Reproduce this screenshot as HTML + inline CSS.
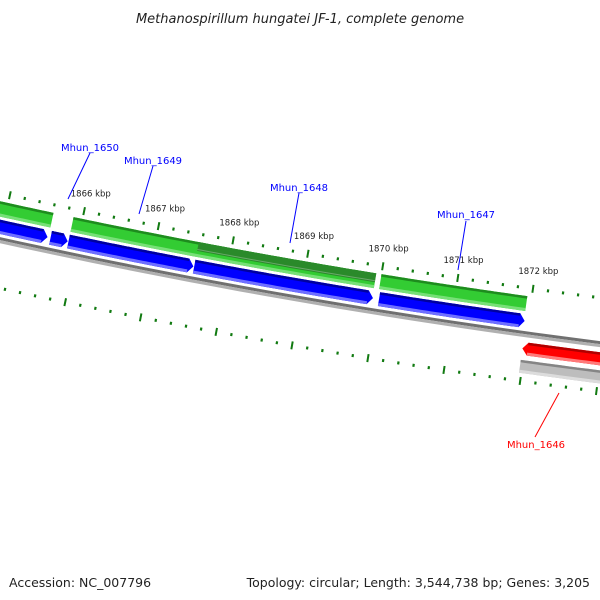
<!DOCTYPE html>
<html><head><meta charset="utf-8"><style>
html,body{margin:0;padding:0;background:#fff;}
svg{display:block;font-family:"DejaVu Sans","Liberation Sans",sans-serif;}
</style></head><body>
<svg id="map" width="600" height="600" viewBox="0 0 600 600">
<text x="300" y="23" text-anchor="middle" font-size="13" font-style="italic" fill="#222">Methanospirillum hungatei JF-1, complete genome</text>
<g id="layer"></g>
<text x="9" y="587" font-size="12.5" fill="#222">Accession: NC_007796</text>
<text x="590" y="587" text-anchor="end" font-size="12.5" fill="#222">Topology: circular; Length: 3,544,738 bp; Genes: 3,205</text>
</svg>
<script>
// data (kbp)
const tickMajor = [1863,1864,1865,1866,1867,1868,1869,1870,1871,1872,1873,1874];
const tickLabels = ["1866 kbp","1867 kbp","1868 kbp","1869 kbp","1870 kbp","1871 kbp","1872 kbp"];
const tickLabelPos = [1866,1867,1868,1869,1870,1871,1872];
const greenStarts = [1872.39,1868.07,1866.06];
const greenEnds = [1874.5,1872.12,1868.0];
const darkGreenStarts = [1868.07];
const darkGreenEnds = [1870.44];
const blueStarts = [1872.40,1872.13,1870.45,1868.06,1866.05];
const blueEnds = [1874.5,1872.36,1872.12,1870.44,1867.98];
const redStarts = [1862.5];
const redEnds = [1866.03];
const grayStarts = [1862.5];
const grayEnds = [1866.03];
const geneNames = ["Mhun_1650","Mhun_1649","Mhun_1648","Mhun_1647","Mhun_1646"];

const CX=1463, CY=-6418;
const NS='http://www.w3.org/2000/svg';
const layer=document.getElementById('layer');
function ang(p){return (99.18+(p-1868)*0.6425)*Math.PI/180;}
function pt(p,r){const a=ang(p);return [CX+r*Math.cos(a),CY+r*Math.sin(a)];}
function arcPts(p1,p2,r){const n=40,out=[];for(let i=0;i<=n;i++){const p=p1+(p2-p1)*i/n;out.push(pt(p,r));}return out;}
function poly(points,fill){const e=document.createElementNS(NS,'polygon');e.setAttribute('points',points.map(q=>q[0].toFixed(2)+','+q[1].toFixed(2)).join(' '));e.setAttribute('fill',fill);layer.appendChild(e);return e;}
// arrow: 'lo' tip at lower kbp, 'hi' tip at higher kbp, null none
function feature(lo,hi,r1,r2,arrow,cols,name){
  const g=document.createElementNS(NS,'g');
  
  
  layer.appendChild(g);
  const h=0.07;
  let a=lo,b=hi;
  if(arrow==='lo')a=lo+h; if(arrow==='hi')b=hi-h;
  const rm=(r1+r2)/2;
  let pts=arcPts(a,b,r1);
  if(arrow==='hi')pts.push(pt(hi,rm));
  pts=pts.concat(arcPts(b,a,r2));
  if(arrow==='lo')pts.push(pt(lo,rm));
  const main=poly(pts,cols[1]);g.appendChild(main);
  const top=poly(arcPts(a,b,r1).concat(arcPts(b,a,r1+2.5)),cols[0]);g.appendChild(top);
  const bot=poly(arcPts(a,b,r2-3).concat(arcPts(b,a,r2)),cols[2]);g.appendChild(bot);
}
// backbone
{const g=document.createElementNS(NS,'g');


layer.appendChild(g);
g.appendChild(poly(arcPts(1862,1875,6814).concat(arcPts(1875,1862,6817)),'#707070'));
g.appendChild(poly(arcPts(1862,1875,6817).concat(arcPts(1875,1862,6820)),'#b0b0b0'));}
// ticks
function ticks(r,dir,ringName){
  for(let k=0;k<=65;k++){
    const p=1862+k*0.2;
    const major=Math.abs(p-Math.round(p))<0.01;
    const len=major?8:3;
    const [x1,y1]=pt(p,r-len/2),[x2,y2]=pt(p,r+len/2);
    const l=document.createElementNS(NS,'line');
    l.setAttribute('x1',x1);l.setAttribute('y1',y1);l.setAttribute('x2',x2);l.setAttribute('y2',y2);
    l.setAttribute('stroke','#117a11');l.setAttribute('stroke-width',major?2:2.2);
    
    
    layer.appendChild(l);
  }
}
ticks(6771,1,'outer-ring');
ticks(6864,1,'inner-ring');
tickLabelPos.forEach((p,i)=>{
  const [x,y]=pt(p,6753);
  const t=document.createElementNS(NS,'text');
  t.setAttribute('x',x+3);t.setAttribute('y',y+3);t.setAttribute('text-anchor','middle');
  t.setAttribute('font-size','8.5');t.setAttribute('fill','#222');
  t.textContent=tickLabels[tickLabels.length-1-i];
  
  
  layer.appendChild(t);
});
const G=['#1e8c1e','#33cc33','#77e077'], B=['#0000a0','#0000ff','#6f6fff'], R=['#b00000','#ff0000','#ff7a7a'], L=['#858585','#bdbdbd','#dcdcdc'];
greenStarts.forEach((s,i)=>feature(Math.min(s,greenEnds[i]),Math.max(s,greenEnds[i]),6779,6794,null,G,'forward-gene'));
darkGreenStarts.forEach((s,i)=>{
  const lo=s,hi=darkGreenEnds[i];
  const g=document.createElementNS(NS,'g');
  
  
  layer.appendChild(g);
  g.appendChild(poly(arcPts(lo,hi,6779).concat(arcPts(hi,lo,6788)),'#2a8a2a'));
  g.appendChild(poly(arcPts(lo,hi,6786).concat(arcPts(hi,lo,6787)),'#6aa86a'));
});
blueStarts.forEach((s,i)=>feature(Math.min(s,blueEnds[i]),Math.max(s,blueEnds[i]),6797,6811,'lo',B,'gene-arrow'));
redStarts.forEach((s,i)=>feature(s,redEnds[i],6825,6838,'hi',R,'reverse-gene'));
grayStarts.forEach((s,i)=>feature(s,grayEnds[i],6843,6856,null,L,'reverse-feature'));
// gene labels
const labX=[90,153,299,466,536], labY=[151,164,191,218,448];
const pinX=[68,139,290,458,559], pinY=[199,214,243,270,393];
const lineTopY=[153,166,193,221,437];
geneNames.forEach((n,i)=>{
  const col=i===4?'#ff0000':'#0000ff';
  const l=document.createElementNS(NS,'line');
  l.setAttribute('x1',i===4?535:labX[i]);l.setAttribute('y1',lineTopY[i]);l.setAttribute('x2',pinX[i]);l.setAttribute('y2',pinY[i]);
  l.setAttribute('stroke',col);l.setAttribute('stroke-width','1');
  
  
  layer.appendChild(l);
  const t=document.createElementNS(NS,'text');
  t.setAttribute('x',labX[i]);t.setAttribute('y',labY[i]);t.setAttribute('text-anchor','middle');
  t.setAttribute('font-size','10');t.setAttribute('fill',col);
  t.textContent=n;
  
  
  layer.appendChild(t);
});
</script>
</body></html>
